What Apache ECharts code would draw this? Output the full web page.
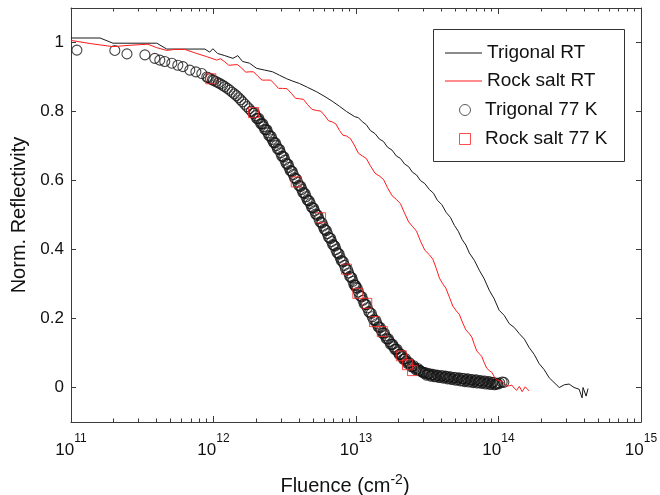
<!DOCTYPE html>
<html>
<head>
<meta charset="utf-8">
<script src="https://cdn.jsdelivr.net/npm/echarts@6/dist/echarts.min.js"></script>
<style>
html,body{margin:0;padding:0;background:#fff;}
#chart{width:660px;height:495px;}
</style>
</head>
<body>
<div id="chart"></div>
<script>
// ---- data (fluence in cm^-2, normalized reflectivity) ----
const trigRT_F = [1.0e11,1.6e11,1.97e11,4.0e11,4.7e11,8.7e11,9.4e11,9.9e11,1.07e12,1.2e12,1.37e12,1.48e12,1.6e12,1.79e12,2.01e12,2.29e12,2.6e12,2.91e12,3.26e12,3.6e12,4.02e12,4.57e12,5.3e12,6.06e12,6.8e12,7.66e12,8.58e12,
9.8e12,1.04e13,1.11e13,1.18e13,1.26e13,1.36e13,1.46e13,1.56e13,1.66e13,1.79e13,1.92e13,2.05e13,2.19e13,2.34e13,2.49e13,2.66e13,2.83e13,3.04e13,3.27e13,3.5e13,3.72e13,4.0e13,4.3e13,4.6e13,4.9e13,5.22e13,5.57e13,5.9e13,6.24e13,6.76e13,7.33e13,7.94e13,8.61e13,9.33e13,
1.01e14,1.097e14,1.19e14,1.29e14,1.4e14,1.52e14,1.64e14,1.78e14,1.93e14,2.09e14,2.27e14,2.67e14,2.9e14,3.13e14,3.39e14,3.68e14,3.86e14,3.92e14,4.12e14,4.25e14];
const trigRT_R = [1.013,1.013,0.998,0.998,0.981,0.981,0.972,0.982,0.968,0.962,0.954,0.962,0.945,0.94,0.925,0.92,0.915,0.905,0.895,0.888,0.881,0.87,0.857,0.843,0.83,0.815,0.80,
0.785,0.782,0.77,0.762,0.745,0.736,0.72,0.713,0.697,0.688,0.671,0.664,0.648,0.640,0.624,0.616,0.6,0.591,0.574,0.563,0.543,0.530,0.507,0.493,0.47,0.453,0.428,0.413,0.39,0.369,0.34,0.315,0.282,0.257,
0.224,0.209,0.185,0.174,0.156,0.140,0.116,0.096,0.069,0.052,0.028,0.0,0.008,0.01,0.0,-0.005,-0.03,0.0,-0.025,-0.003];

const rsRT_F = [1.0e11,1.36e11,1.97e11,2.59e11,3.46e11,4.0e11,4.7e11,5.35e11,6.29e11,7.39e11,8.97e11,1.054e12,1.12e12,1.2e12,1.28e12,1.37e12,1.47e12,1.577e12,1.68e12,1.79e12,1.91e12,2.04e12,2.19e12,2.36e12,2.52e12,2.69e12,2.86e12,3.05e12,3.28e12,3.53e12,3.77e12,4.02e12,4.28e12,4.57e12,4.92e12,5.3e12,5.67e12,6.06e12,6.42e12,6.8e12,7.22e12,7.66e12,8.11e12,8.58e12,9.17e12,9.8e12,
1.04e13,1.11e13,1.18e13,1.26e13,1.36e13,1.46e13,1.56e13,1.66e13,1.79e13,1.92e13,2.05e13,2.19e13,2.34e13,2.49e13,2.66e13,2.83e13,3.04e13,3.27e13,3.46e13,3.66e13,3.85e13,4.04e13,4.27e13,4.52e13,4.78e13,5.06e13,5.31e13,5.57e13,5.9e13,6.24e13,6.5e13,6.76e13,7.04e13,7.33e13,7.63e13,7.94e13,8.27e13,8.61e13,8.97e13,9.33e13,9.7e13,
1.01e14,1.05e14,1.097e14,1.14e14,1.19e14,1.24e14,1.29e14,1.34e14,1.4e14,1.43e14,1.466e14,1.5e14,1.54e14,1.59e14,1.64e14];
const rsRT_R = [1.006,0.997,0.988,0.992,0.995,0.985,0.977,0.98,0.98,0.97,0.959,0.949,0.953,0.944,0.934,0.935,0.936,0.926,0.914,0.915,0.915,0.903,0.891,0.891,0.891,0.879,0.867,0.867,0.866,0.852,0.838,0.837,0.835,0.82,0.806,0.803,0.801,0.787,0.773,0.77,0.764,0.745,0.731,0.729,0.721,0.7,
0.679,0.671,0.664,0.643,0.621,0.613,0.603,0.58,0.556,0.545,0.533,0.506,0.48,0.467,0.453,0.425,0.398,0.385,0.372,0.345,0.317,0.302,0.288,0.262,0.236,0.222,0.212,0.19,0.167,0.156,0.146,0.125,0.106,0.098,0.090,0.072,0.056,0.049,0.044,0.032,0.022,
0.02,0.019,0.012,0.004,0.005,0.007,-0.002,-0.008,0.003,0.004,-0.012,-0.009,0.002,0.001,-0.01];

const tri77_F = [
1.10e11,2.03e11,2.47e11,3.30e11,3.87e11,4.20e11,4.55e11,5.10e11,5.62e11,6.10e11,6.82e11,7.52e11,8.28e11,8.98e11,
9.19e11,9.51e11,9.84e11,
1.00e12,1.04e12,1.08e12,1.12e12,1.16e12,1.20e12,1.25e12,1.30e12,1.35e12,1.40e12,1.45e12,1.50e12,1.55e12,1.60e12,1.66e12,1.72e12,1.78e12,1.84e12,1.90e12,1.97e12,
2.04e12,2.11e12,2.18e12,2.25e12,2.33e12,2.41e12,2.49e12,2.58e12,2.67e12,2.76e12,2.86e12,2.96e12,3.06e12,3.17e12,3.28e12,3.39e12,3.51e12,3.63e12,3.76e12,3.89e12,
4.03e12,4.17e12,4.31e12,4.46e12,4.62e12,4.78e12,4.95e12,5.12e12,5.30e12,5.49e12,5.68e12,5.88e12,6.08e12,6.30e12,6.52e12,6.75e12,6.98e12,7.23e12,7.48e12,7.74e12,
8.01e12,8.29e12,8.58e12,8.88e12,9.19e12,9.51e12,9.84e12,
1.00e13,1.04e13,1.08e13,1.12e13,1.16e13,1.20e13,1.25e13,1.30e13,1.35e13,1.40e13,1.45e13,1.50e13,1.55e13,1.60e13,1.66e13,1.72e13,1.78e13,1.84e13,1.90e13,1.97e13,
2.04e13,2.11e13,2.18e13,2.25e13,2.33e13,2.41e13,2.49e13,2.58e13,2.67e13,2.76e13,2.86e13,2.96e13,3.06e13,3.17e13,3.28e13,3.39e13,3.51e13,3.63e13,3.76e13,3.89e13,
4.03e13,4.17e13,4.31e13,4.46e13,4.62e13,4.78e13,4.95e13,5.12e13,5.30e13,5.49e13,5.68e13,5.88e13,6.08e13,6.30e13,6.52e13,6.75e13,6.98e13,7.23e13,7.48e13,7.74e13,
8.01e13,8.29e13,8.58e13,8.88e13,9.19e13,9.51e13,9.84e13,
1.02e14,1.06e14,1.09e14,
1.94e12,2.01e12,2.08e12,2.15e12,2.22e12,2.29e12,2.37e12,2.45e12,2.54e12,2.63e12,2.72e12,2.81e12,2.91e12,3.01e12,3.12e12,3.23e12,3.34e12,3.45e12,3.57e12,3.70e12,
3.83e12,3.96e12,4.10e12,4.24e12,4.39e12,4.54e12,4.70e12,4.87e12,5.04e12,5.21e12,5.40e12,5.59e12,5.78e12,5.98e12,6.19e12,6.41e12,6.64e12,6.87e12,7.11e12,7.36e12,
7.61e12,7.88e12,8.15e12,8.44e12,8.73e12,9.04e12,9.35e12,9.68e12,9.92e12,
1.02e13,1.06e13,1.10e13,1.14e13,1.18e13,1.23e13,1.28e13,1.33e13,1.38e13,1.43e13,1.48e13,1.53e13,1.58e13,1.63e13,1.69e13,1.75e13,1.81e13,1.87e13,1.94e13,2.01e13,
2.08e13,2.15e13,2.22e13,2.29e13,2.37e13,2.45e13,2.54e13,2.63e13,2.72e13,2.81e13,
2.91e13,3.01e13,3.12e13,3.23e13,3.34e13,3.45e13,3.57e13,3.70e13,3.83e13,3.96e13,4.10e13,4.24e13,4.39e13,4.54e13,4.70e13,4.87e13,5.04e13,5.21e13,5.40e13,5.59e13,
5.78e13,5.98e13,6.19e13,6.41e13,6.64e13,6.87e13,7.11e13,7.36e13,7.61e13,7.88e13,8.15e13,8.44e13,8.73e13,9.04e13,9.35e13,9.68e13,9.92e13];
const tri77_R = [
0.978,0.977,0.967,0.964,0.954,0.949,0.945,0.940,0.934,0.930,0.920,0.915,0.910,0.900,
0.898,0.895,0.892,
0.890,0.887,0.883,0.880,0.876,0.872,0.867,0.862,0.856,0.851,0.846,0.840,0.834,0.828,0.821,0.814,0.808,0.801,0.795,0.788,
0.779,0.772,0.764,0.756,0.747,0.738,0.729,0.719,0.710,0.701,0.691,0.680,0.670,0.659,0.648,0.638,0.628,0.617,0.606,0.595,
0.584,0.574,0.564,0.553,0.542,0.533,0.521,0.512,0.501,0.489,0.479,0.468,0.457,0.446,0.434,0.423,0.412,0.400,0.389,0.377,
0.366,0.354,0.343,0.332,0.320,0.308,0.296,
0.290,0.277,0.265,0.253,0.241,0.231,0.217,0.205,0.195,0.185,0.175,0.166,0.158,0.150,0.141,0.133,0.125,0.118,0.111,0.103,
0.096,0.089,0.083,0.077,0.071,0.066,0.061,0.057,0.053,0.050,0.047,0.044,0.043,0.039,0.040,0.035,0.037,0.032,0.035,0.030,
0.034,0.029,0.032,0.027,0.030,0.025,0.029,0.023,0.028,0.021,0.026,0.020,0.025,0.018,0.023,0.017,0.022,0.015,0.020,0.014,
0.019,0.012,0.017,0.010,0.015,0.009,0.012,
0.013,0.016,0.015,
0.796,0.780,0.780,0.764,0.764,0.748,0.747,0.730,0.728,0.711,0.709,0.692,0.690,0.671,0.668,0.650,0.647,0.629,0.626,0.608,
0.604,0.586,0.583,0.565,0.562,0.544,0.541,0.523,0.520,0.503,0.499,0.480,0.477,0.459,0.455,0.436,0.432,0.414,0.410,0.391,
0.387,0.368,0.364,0.345,0.341,0.322,0.318,0.298,0.296,
0.288,0.267,0.263,0.243,0.240,0.220,0.215,0.196,0.194,0.176,0.174,0.158,0.158,0.142,0.141,0.125,0.125,0.111,0.111,0.096,
0.096,0.082,0.084,0.070,0.072,0.060,0.063,0.051,0.055,0.049,
0.045,0.041,0.036,0.040,0.033,0.038,0.031,0.036,0.029,0.034,0.027,0.033,0.025,0.031,0.023,0.029,0.021,0.027,0.019,0.026,
0.017,0.024,0.016,0.022,0.014,0.021,0.013,0.019,0.012,0.018,0.010,0.016,0.009,0.014,0.008,0.012,0.010];

const rs77_F = [9.57e11,1.91e12,3.81e12,5.64e12,8.58e12,1.03e13,1.19e13,1.35e13,1.53e13,2.08e13,2.30e13,2.49e13];
const rs77_R = [0.895,0.797,0.596,0.492,0.343,0.273,0.244,0.191,0.162,0.092,0.066,0.049];

// ---- axis ticks / labels ----
const xDecades = [11, 12, 13, 14, 15];
const minorMult = [2, 3, 4, 5, 6, 7, 8, 9];
const yTicks = [0, 0.2, 0.4, 0.6, 0.8, 1];
const seriesNames = ['Trigonal RT', 'Rock salt RT', 'Trigonal 77 K', 'Rock salt 77 K'];

const X_MIN = 1e11, X_MAX = 1e15, Y_MIN = -0.1, Y_MAX = 1.1;
const zip = (a, b) => a.map((v, i) => [v, b[i]]);

const FONT = '"Liberation Sans", Arial, Helvetica, sans-serif';
const AX = '#3a3a3a';
const TXT = '#111';

// grid box (shared by the grid option and the tick decoration)
const W = 660, H = 495;
const G = {left: 71, right: 19, top: 8, bottom: 73};
const gx0 = G.left, gx1 = W - G.right, gy0 = G.top, gy1 = H - G.bottom;
const decToX = e => gx0 + (e - xDecades[0]) / (xDecades[xDecades.length - 1] - xDecades[0]) * (gx1 - gx0);
const valToY = v => gy1 - (v - Y_MIN) / (Y_MAX - Y_MIN) * (gy1 - gy0);

// tick marks (axis decoration, pointing inward on all four sides)
const tickEls = [];
const addRect = (x, y, w, h) => tickEls.push({
  type: 'rect', z: 20, silent: true,
  shape: {x: x, y: y, width: w, height: h},
  style: {fill: AX}
});
const xTick = (e, len) => {
  const x = Math.round(decToX(e) - 0.5);
  addRect(x, gy1 - len, 1, len);
  addRect(x, gy0, 1, len);
};
xDecades.forEach(d => xTick(d, 6));
xDecades.slice(0, -1).forEach(d => minorMult.forEach(m => xTick(d + Math.log10(m), 3.5)));
yTicks.forEach(v => {
  const y = Math.round(valToY(v) - 0.5);
  addRect(gx0, y, 5, 1);
  addRect(gx1 - 5, y, 5, 1);
});

const legendBox = {
  type: 'rect', z: 0, silent: true,
  shape: {x: 433.5, y: 29.5, width: 191, height: 132},
  style: {fill: '#ffffff', stroke: '#333333', lineWidth: 1}
};

const chart = echarts.init(document.getElementById('chart'), null, {renderer: 'canvas'});

const logAxisBase = {
  type: 'log', logBase: 10, min: X_MIN, max: X_MAX, gridIndex: 0,
  splitLine: {show: false}, axisTick: {show: false},
  axisLine: {show: true, onZero: false, lineStyle: {color: AX, width: 1}}
};
const yBase = {
  type: 'value', min: Y_MIN, max: Y_MAX, gridIndex: 0,
  splitLine: {show: false}, axisTick: {show: false},
  axisLine: {show: true, onZero: false, lineStyle: {color: AX, width: 1}}
};

const option = {
  animation: false,
  backgroundColor: '#ffffff',
  textStyle: {fontFamily: FONT, color: TXT},
  grid: {left: G.left, right: G.right, top: G.top, bottom: G.bottom, containLabel: false, outerBoundsMode: 'none'},
  graphic: {elements: [legendBox].concat(tickEls)},
  legend: [{
    data: [
      {name: seriesNames[0], icon: 'path://M0,0H37V1H0Z'},
      {name: seriesNames[1], icon: 'path://M0,0H37V1H0Z'}
    ],
    orient: 'vertical', left: 445, top: 42, padding: 0,
    itemWidth: 37, itemHeight: 12, itemGap: 6,
    textStyle: {fontFamily: FONT, fontSize: 19, color: TXT, lineHeight: 22}
  }, {
    data: [
      {name: seriesNames[2], icon: 'circle', itemStyle: {color: 'rgba(0,0,0,0)', borderColor: '#333', borderWidth: 1}},
      {name: seriesNames[3], icon: 'path://M0,0H10V10H0Z', itemStyle: {color: 'rgba(0,0,0,0)', borderColor: '#ff2020', borderWidth: 1}}
    ],
    orient: 'vertical', left: 459, top: 99, padding: 0,
    itemWidth: 30, itemHeight: 11, itemGap: 7,
    textStyle: {fontFamily: FONT, fontSize: 19, color: TXT, lineHeight: 22}
  }],
  xAxis: [
    Object.assign({}, logAxisBase, {
      position: 'bottom',
      axisLabel: {
        show: true, margin: 20,
        formatter: v => '{b|10}{s|' + Math.round(Math.log10(v)) + '}',
        rich: {
          b: {fontFamily: FONT, fontSize: 17, lineHeight: 17, color: TXT},
          s: {fontFamily: FONT, fontSize: 12, lineHeight: 12, color: TXT, padding: [0, 0, 24, 0]}
        }
      },
      name: '{b|Fluence (cm}{s|-2}{b|)}',
      nameLocation: 'middle', nameGap: 54,
      nameTextStyle: {
        padding: [0, 22, 0, 0],
        rich: {
          b: {fontFamily: FONT, fontSize: 20, lineHeight: 20, color: TXT},
          s: {fontFamily: FONT, fontSize: 14, lineHeight: 14, color: TXT, padding: [0, 0, 12, 0]}
        }
      }
    }),
    Object.assign({}, logAxisBase, {position: 'top', axisLabel: {show: false}})
  ],
  yAxis: [
    Object.assign({}, yBase, {
      position: 'left',
      axisLabel: {show: true, margin: 7, customValues: yTicks, fontFamily: FONT, fontSize: 17, color: TXT},
      name: 'Norm. Reflectivity',
      nameLocation: 'middle', nameGap: 42,
      nameTextStyle: {fontFamily: FONT, fontSize: 20, color: TXT, lineHeight: 20}
    }),
    Object.assign({}, yBase, {position: 'right', axisLabel: {show: false}})
  ],
  series: [
    {
      name: seriesNames[2], type: 'scatter', xAxisIndex: 0, yAxisIndex: 0,
      data: zip(tri77_F, tri77_R), symbol: 'circle', symbolSize: 10,
      itemStyle: {color: 'rgba(0,0,0,0)', borderColor: '#151515', borderWidth: 1.1},
      emphasis: {disabled: true}, z: 2
    },
    {
      name: seriesNames[3], type: 'scatter', xAxisIndex: 0, yAxisIndex: 0,
      data: zip(rs77_F, rs77_R), symbol: 'rect', symbolSize: 10,
      itemStyle: {color: 'rgba(0,0,0,0)', borderColor: '#ff2020', borderWidth: 1},
      emphasis: {disabled: true}, z: 3
    },
    {
      name: seriesNames[0], type: 'line', xAxisIndex: 0, yAxisIndex: 0,
      data: zip(trigRT_F, trigRT_R), symbol: 'none', showSymbol: false,
      color: '#1a1a1a', lineStyle: {color: '#1a1a1a', width: 1},
      emphasis: {disabled: true}, z: 4
    },
    {
      name: seriesNames[1], type: 'line', xAxisIndex: 0, yAxisIndex: 0,
      data: zip(rsRT_F, rsRT_R), symbol: 'none', showSymbol: false,
      color: '#ff1a1a', lineStyle: {color: '#ff1a1a', width: 1},
      emphasis: {disabled: true}, z: 5
    }
  ]
};
chart.setOption(option);
</script>
</body>
</html>
